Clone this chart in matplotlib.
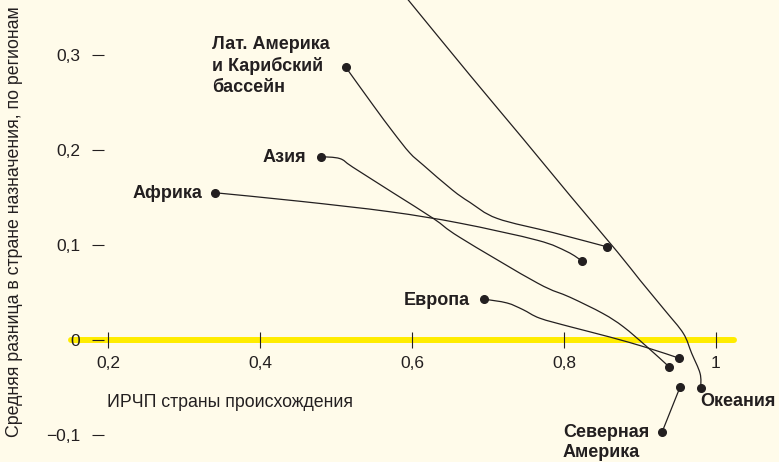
import numpy as np
import matplotlib.pyplot as plt
from matplotlib.path import Path
from matplotlib.patches import PathPatch

plt.rcParams['font.family'] = ['Liberation Sans', 'DejaVu Sans']

# ИРЧП страны происхождения (x) и средняя разница (y), точки
africa_x = [0.341, 0.453, 0.571, 0.663, 0.765, 0.804, 0.824]
africa_y = [0.155, 0.146, 0.135, 0.123, 0.105, 0.093, 0.083]

latam_x = [0.513, 0.549, 0.575, 0.597, 0.615, 0.653, 0.676, 0.712, 0.786, 0.857]
latam_y = [0.287, 0.247, 0.219, 0.197, 0.184, 0.158, 0.145, 0.128, 0.113, 0.098]

asia_x = [0.480, 0.505, 0.522, 0.575, 0.628, 0.663, 0.765, 0.808, 0.851, 0.878, 0.909, 0.938]
asia_y = [0.193, 0.191, 0.182, 0.155, 0.128, 0.108, 0.060, 0.045, 0.028, 0.014, -0.007, -0.028]

europe_x = [0.695, 0.725, 0.746, 0.768, 0.808, 0.861, 0.909, 0.951]
europe_y = [0.043, 0.039, 0.032, 0.023, 0.014, 0.003, -0.008, -0.019]

namerica_x = [0.929, 0.953]
namerica_y = [-0.097, -0.049]

oceania_x = [0.562, 0.595, 0.676, 0.746, 0.808, 0.870, 0.900, 0.933, 0.957, 0.968, 0.979, 0.980]
oceania_y = [0.390, 0.358, 0.279, 0.212, 0.152, 0.093, 0.063, 0.031, 0.007, -0.014, -0.035, -0.050]

xticks = [0.2, 0.4, 0.6, 0.8, 1.0]
xtick_labels = ['0,2', '0,4', '0,6', '0,8', '1']
yticks = [-0.1, 0, 0.1, 0.2, 0.3]
ytick_labels = ['\u22120,1', '0', '0,1', '0,2', '0,3']

bg = '#FFFBEA'
ink = '#231F20'


def smooth_path(xs, ys):
    # catmull-rom -> bezier, чтобы линии были плавные
    pts = np.column_stack([xs, ys])
    if len(pts) < 3:
        return Path(pts)
    verts = [pts[0]]
    codes = [Path.MOVETO]
    p = np.vstack([pts[0], pts, pts[-1]])
    for i in range(1, len(p) - 2):
        p0, p1, p2, p3 = p[i - 1], p[i], p[i + 1], p[i + 2]
        c1 = p1 + (p2 - p0) / 6
        c2 = p2 - (p3 - p1) / 6
        verts += [c1, c2, p2]
        codes += [Path.CURVE4] * 3
    return Path(verts, codes)


fig = plt.figure(figsize=(7.79, 4.62), dpi=100, facecolor=bg)
ax = fig.add_axes([0, 0, 1, 1])
ax.set_facecolor(bg)
ax.set_xlim(0.0579, 1.0829)
ax.set_ylim(-0.1284, 0.3579)

ax.plot([0.1513, 1.0237], [0, 0], color='#FFEC00', lw=4.3,
        solid_capstyle='round', zorder=1)

for sp in ax.spines.values():
    sp.set_color('none')
ax.spines['left'].set_position(('data', 0.1947))
ax.spines['bottom'].set_position(('data', 0))

ax.set_xticks(xticks)
ax.set_xticklabels(xtick_labels)
ax.set_yticks(yticks)
ax.set_yticklabels(ytick_labels)
ax.tick_params(axis='x', direction='inout', length=12, width=0.8, color=ink,
               labelsize=12.5, labelcolor=ink, pad=5.5)
ax.tick_params(axis='y', direction='out', length=8.6, width=0.8, color=ink,
               labelsize=12.5, labelcolor=ink, pad=8.6)

regions = [
    (africa_x, africa_y, True),
    (latam_x, latam_y, True),
    (asia_x, asia_y, True),
    (europe_x, europe_y, True),
    (namerica_x, namerica_y, True),
    (oceania_x, oceania_y, False),
]
for xs, ys, has_start in regions:
    ax.add_patch(PathPatch(smooth_path(xs, ys), fill=False, edgecolor=ink,
                           lw=0.9, zorder=3))
    ax.plot(xs[-1], ys[-1], 'o', color=ink, ms=5.5, zorder=4)
    if has_start:
        ax.plot(xs[0], ys[0], 'o', color=ink, ms=5.5, zorder=4)

lab = dict(fontsize=13, fontweight='bold', color=ink, va='center')
ax.text(0.3368, 0.2884, 'Лат. Америка\nи Карибский\nбассейн', ha='left',
        linespacing=1.28, **lab)
ax.text(0.4605, 0.1926, 'Азия', ha='right', **lab)
ax.text(0.3237, 0.1547, 'Африка', ha='right', **lab)
ax.text(0.6763, 0.0421, 'Европа', ha='right', **lab)
ax.text(0.979, -0.0642, 'Океания', ha='left', **lab)
ax.text(0.7987, -0.1079, 'Северная\nАмерика', ha='left', linespacing=1.28, **lab)

ax.text(0.1987, -0.0653, 'ИРЧП страны происхождения', ha='left', va='center',
        fontsize=12.8, color=ink)
fig.text(15 / 779, 1 - 222 / 462,
         'Средняя разница в стране назначения, по регионам',
         rotation=90, ha='center', va='center', fontsize=12.8, color=ink)

fig.savefig('out.png', dpi=100, facecolor=bg)
